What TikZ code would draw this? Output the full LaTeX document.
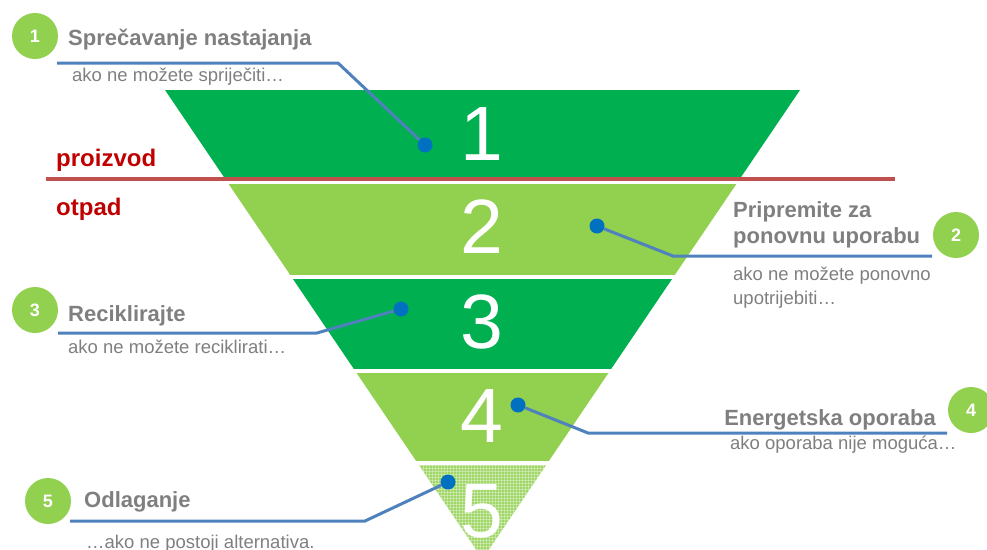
\documentclass[tikz,border=0pt]{standalone}
\usepackage{fontspec}
\setmainfont{Liberation Sans}
\usetikzlibrary{positioning,patterns}

\definecolor{dgreen}{HTML}{00B050}
\definecolor{lgreen}{HTML}{92D050}
\definecolor{leaderblue}{HTML}{4F81BD}
\definecolor{dotblue}{HTML}{0070C0}
\definecolor{linered}{HTML}{C0504D}
\definecolor{textred}{HTML}{C00000}
\definecolor{textgray}{HTML}{7F7F7F}

\begin{document}
\begin{tikzpicture}[x=1pt,y=-1pt]
    \tikzstyle{leader}=[draw=leaderblue, line width=3pt]
    \tikzstyle{dot}=[circle, fill=dotblue, minimum size=15pt, inner sep=0pt]
    \tikzstyle{badge}=[circle, fill=lgreen, minimum size=46pt, inner sep=0pt, text=white, font=\bfseries\fontsize{18}{18}\selectfont]
    \tikzstyle{head}=[anchor=base west, inner sep=0pt, text=textgray, font=\bfseries\fontsize{22}{26}\selectfont]
    \tikzstyle{sub}=[anchor=base west, inner sep=0pt, text=textgray, font=\fontsize{18.5}{22}\selectfont]
    \tikzstyle{level}=[anchor=base, inner sep=0pt, text=white, font=\fontsize{77}{77}\selectfont]
    \tikzstyle{side}=[anchor=base west, inner sep=0pt, text=textred, font=\bfseries\fontsize{24}{28}\selectfont]

    \useasboundingbox (0,0) rectangle (987,549);

    % funnel
    \begin{scope}
        \clip (165,90) -- (800,90) -- (482.5,559) -- cycle;
        \fill[dgreen] (0,90) rectangle (987,177);
        \fill[lgreen] (0,184) rectangle (987,275);
        \fill[dgreen] (0,279) rectangle (987,369);
        \fill[lgreen] (0,373) rectangle (987,461);
        \fill[lgreen!88!white] (0,465) rectangle (987,560);
        \fill[pattern=grid, pattern color=white, opacity=0.35] (0,465) rectangle (987,560);
    \end{scope}

    \node (L1) [level] at (482,160) {1};
    \node (L2) [level] at (482,253) {2};
    \node (L3) [level] at (482,348) {3};
    \node (L4) [level] at (482,442) {4};
    \node (L5) [level] at (482,537) {5};

    % product / waste divider
    \coordinate (R1) at (46,179);
    \coordinate (R2) at (895,179);
    \draw[linered, line width=4pt] (R1) -- (R2);
    \node (Prod) [side] at (56,166) {proizvod};
    \node (Waste) [side] at (56,215) {otpad};

    % labels
    \node (B1) [badge] at (35,36) {1};
    \node (H1) [head] at (68,45) {Sprečavanje nastajanja};
    \node (S1) [sub] at (72,81) {ako ne možete spriječiti…};

    \node (B2) [badge] at (956,235) {2};
    \node (H2a) [head] at (733,217) {Pripremite za};
    \node (H2b) [head] at (733,243) {ponovnu uporabu};
    \node (S2a) [sub] at (733,280) {ako ne možete ponovno};
    \node (S2b) [sub] at (733,304) {upotrijebiti…};

    \node (B3) [badge] at (35,310) {3};
    \node (H3) [head] at (68,321) {Reciklirajte};
    \node (S3) [sub] at (68,353) {ako ne možete reciklirati…};

    \node (B4) [badge] at (971,410) {4};
    \node (H4) [head, anchor=base east] at (936,425) {Energetska oporaba};
    \node (S4) [sub] at (730,449) {ako oporaba nije moguća…};

    \node (B5) [badge] at (48,501) {5};
    \node (H5) [head] at (84,507) {Odlaganje};
    \node (S5) [sub] at (86,548) {…ako ne postoji alternativa.};

    % leaders
    \node (D1) [dot] at (425,145) {};
    \node (D2) [dot] at (597,226) {};
    \node (D3) [dot] at (401,309) {};
    \node (D4) [dot] at (518,405) {};
    \node (D5) [dot] at (448,482) {};

    \coordinate (E1) at (57,63);   \coordinate (K1) at (338,63);
    \coordinate (E2) at (932,256); \coordinate (K2) at (673,256);
    \coordinate (E3) at (58,333);  \coordinate (K3) at (317,333);
    \coordinate (E4) at (947,433); \coordinate (K4) at (588,433);
    \coordinate (E5) at (70,521);  \coordinate (K5) at (365,521);

    \draw[leader] (E1) -- (K1) -- (D1);
    \draw[leader] (E2) -- (K2) -- (D2);
    \draw[leader] (E3) -- (K3) -- (D3);
    \draw[leader] (E4) -- (K4) -- (D4);
    \draw[leader] (E5) -- (K5) -- (D5);

\end{tikzpicture}
\end{document}
